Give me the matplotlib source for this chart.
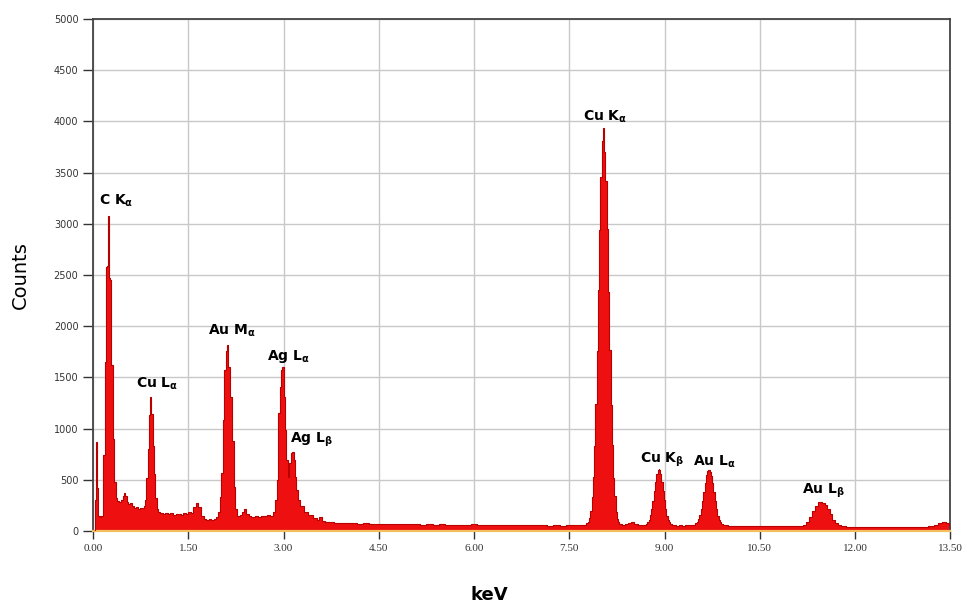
import numpy as np
import matplotlib.pyplot as plt

# EDS spectrum read channel by channel (keV, counts)
energy = [
    0.00, 0.03, 0.045, 0.055, 0.065, 0.075, 0.09, 0.12, 0.145, 0.155, 0.175, 0.19,
    0.21, 0.23, 0.245, 0.26, 0.28, 0.30, 0.32, 0.34, 0.37, 0.40, 0.43,
    0.46, 0.48, 0.50, 0.52, 0.54, 0.57, 0.60, 0.63, 0.66, 0.69, 0.72, 0.75, 0.78,
    0.81, 0.83, 0.85, 0.87, 0.89, 0.91, 0.93, 0.95, 0.97, 0.99, 1.01, 1.04,
    1.08, 1.12, 1.16, 1.20, 1.24, 1.28, 1.32, 1.36, 1.40, 1.44, 1.48, 1.52, 1.56,
    1.60, 1.64, 1.68, 1.72, 1.76, 1.80, 1.84, 1.88, 1.92, 1.96, 1.99, 2.01, 2.03,
    2.055, 2.08, 2.10, 2.12, 2.145, 2.17, 2.20, 2.225, 2.25, 2.29, 2.33, 2.37,
    2.40, 2.43, 2.47, 2.52, 2.57, 2.62, 2.67, 2.72, 2.77, 2.81, 2.85, 2.88, 2.91,
    2.93, 2.95, 2.97, 2.99, 3.01, 3.03, 3.055, 3.08, 3.105, 3.13, 3.15, 3.17,
    3.19, 3.21, 3.24, 3.29, 3.34, 3.42, 3.50, 3.55, 3.58, 3.62, 3.68, 3.75, 3.85,
    3.95, 4.05, 4.10, 4.20, 4.30, 4.40, 4.50, 4.60, 4.70, 4.80, 4.90, 5.00, 5.10,
    5.20, 5.30, 5.40, 5.50, 5.60, 5.70, 5.80, 5.90, 6.00, 6.10, 6.20, 6.30, 6.40,
    6.50, 6.60, 6.70, 6.80, 6.90, 7.00, 7.10, 7.20, 7.30, 7.40, 7.50, 7.60, 7.68,
    7.74, 7.78, 7.80, 7.82, 7.84, 7.86, 7.88, 7.90, 7.92, 7.94, 7.96, 7.98, 8.00,
    8.02, 8.04, 8.06, 8.08, 8.10, 8.12, 8.14, 8.16, 8.18, 8.20, 8.22, 8.24, 8.26,
    8.28, 8.30, 8.35, 8.40, 8.45, 8.50, 8.55, 8.60, 8.65, 8.70, 8.72, 8.74, 8.76,
    8.78, 8.80, 8.82, 8.84, 8.86, 8.88, 8.90, 8.91, 8.92, 8.94, 8.96, 8.98, 9.00,
    9.02, 9.04, 9.06, 9.08, 9.10, 9.13, 9.16, 9.20, 9.25, 9.30, 9.35, 9.40, 9.45,
    9.50, 9.52, 9.54, 9.56, 9.58, 9.60, 9.62, 9.64, 9.66, 9.68, 9.70, 9.72, 9.74,
    9.76, 9.78, 9.80, 9.82, 9.84, 9.86, 9.88, 9.90, 9.93, 9.97, 10.02, 10.10,
    10.20, 10.30, 10.40, 10.50, 10.60, 10.70, 10.80, 10.90, 11.00, 11.08, 11.15,
    11.20, 11.25, 11.30, 11.35, 11.40, 11.44, 11.47, 11.50, 11.54, 11.58, 11.62,
    11.66, 11.70, 11.75, 11.80, 11.90, 12.00, 12.10, 12.20, 12.30, 12.40, 12.50,
    12.60, 12.70, 12.80, 12.90, 13.00, 13.10, 13.20, 13.28, 13.34, 13.40, 13.45,
    13.50,
]
counts = [
    0, 0, 300, 870, 610, 420, 150, 140, 150, 700, 740, 1650,
    2580, 2590, 3080, 2470, 2450, 1620, 900, 480, 320, 290, 280,
    300, 340, 375, 340, 280, 265, 270, 240, 225, 230, 215, 225, 220,
    240, 300, 520, 800, 1130, 1310, 1140, 830, 560, 320, 215, 185,
    175, 170, 180, 165, 175, 160, 170, 165, 160, 175, 170, 190, 175,
    230, 270, 230, 150, 120, 110, 115, 105, 120, 140, 190, 330, 570,
    1080, 1570, 1760, 1815, 1600, 1310, 880, 430, 210, 150, 155, 190,
    210, 165, 145, 140, 150, 140, 150, 145, 155, 150, 190, 300, 500,
    1150, 1410, 1570, 1600, 1310, 990, 690, 530, 660, 760, 775, 690,
    530, 400, 300, 240, 190, 155, 125, 110, 135, 100, 90, 88, 82,
    80, 76, 78, 72, 75, 70, 72, 68, 70, 66, 69, 65, 67,
    63, 66, 62, 64, 61, 63, 60, 62, 64, 60, 58, 60, 57,
    59, 56, 58, 55, 57, 54, 56, 53, 55, 53, 55, 54, 56,
    60, 75, 90, 130, 200, 330, 530, 830, 1240, 1760, 2350, 2940, 3460,
    3810, 3935, 3700, 3420, 2950, 2330, 1770, 1230, 840, 520, 340, 190, 120,
    90, 70, 62, 72, 82, 85, 72, 58, 55, 60, 68, 84, 110,
    153, 215, 296, 389, 481, 557, 600, 605, 598, 555, 480, 392, 298,
    212, 150, 112, 85, 70, 60, 55, 52, 55, 50, 54, 58, 62,
    75, 90, 115, 155, 215, 295, 385, 470, 545, 585, 596, 580, 540,
    470, 385, 290, 210, 150, 110, 85, 70, 62, 55, 52, 48,
    50, 46, 48, 45, 47, 44, 46, 45, 47, 45, 50,
    62, 88, 132, 191, 249, 279, 285, 278, 255, 215, 165,
    112, 81, 58, 48, 43, 40, 42, 39, 41, 38, 40,
    37, 39, 36, 38, 37, 40, 45, 60, 80, 88, 80,
    60,
]

# peak annotations
peak_names = [r'C K$_\alpha$', r'Cu L$_\alpha$', r'Au M$_\alpha$', r'Ag L$_\alpha$',
              r'Ag L$_\beta$', r'Cu K$_\alpha$', r'Cu K$_\beta$', r'Au L$_\alpha$',
              r'Au L$_\beta$']
label_xy = [(0.36, 3220), (1.01, 1435), (2.19, 1953), (3.08, 1700), (3.44, 890),
            (8.06, 4043), (8.97, 693), (9.78, 674), (11.51, 390)]

plt.rcParams['mathtext.default'] = 'bf'

fig = plt.figure(figsize=(9.71, 6.07), dpi=100)
ax = fig.add_axes([0.0958, 0.1252, 0.8829, 0.8435])

# spectrum as a filled histogram
ax.fill_between(energy, counts, 0, step='mid', color='#ee1010', linewidth=0, zorder=2)
ax.step(energy, counts, where='mid', color='#b80000', lw=0.8, zorder=3)

for name, (x, y) in zip(peak_names, label_xy):
    ax.text(x, y, name, ha='center', va='center', fontsize=10, fontweight='bold', zorder=4)

ax.set_xlim(0, 13.5)
ax.set_ylim(0, 5000)
ax.set_xticks(np.arange(0, 13.51, 1.5))
ax.set_xticklabels(['%.2f' % v for v in np.arange(0, 13.51, 1.5)],
                   fontsize=8, family='Liberation Serif')
ax.set_yticks(np.arange(0, 5001, 500))
ax.tick_params(axis='y', labelsize=7, length=7, width=1, colors='#333333')
ax.tick_params(axis='x', length=6, width=1, colors='#333333')

ax.grid(color='#c8c8c8', lw=1)
ax.set_axisbelow(True)

for side in ['left', 'top', 'right']:
    ax.spines[side].set_color('#444444')
    ax.spines[side].set_linewidth(1.3)
ax.spines['bottom'].set_color('#f2c060')
ax.spines['bottom'].set_linewidth(1.6)

fig.text(20 / 971, 1 - 275 / 607, 'Counts', rotation=90, ha='center', va='center', fontsize=14)
fig.text(489 / 971, 1 - 595 / 607, 'keV', ha='center', va='center', fontsize=13, fontweight='bold')

plt.savefig('out.png', dpi=100)
